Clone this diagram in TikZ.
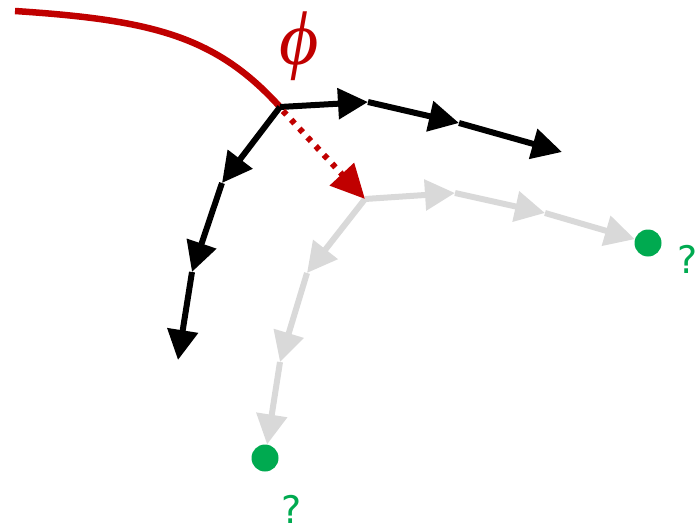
\documentclass[tikz,border=0pt]{standalone}
\usepackage{fontspec}
\usetikzlibrary{arrows.meta}
\newfontfamily\qfont{DejaVu Sans}
\newfontfamily\phifont{Liberation Serif}
\definecolor{phired}{RGB}{192,0,0}
\definecolor{lgray}{RGB}{217,217,217}
\definecolor{dotgreen}{RGB}{0,170,80}
\tikzset{
  blk/.style={line width=6pt, black, -{Triangle[length=30pt,width=30pt]}},
  gry/.style={line width=6pt, lgray, -{Triangle[length=30pt,width=30pt]}},
  reddot/.style={line width=6pt, phired, dash pattern=on 5pt off 7pt, -{Triangle[length=34pt,width=32pt]}},
  gdot/.style={circle, fill=dotgreen, minimum size=27pt, inner sep=0pt},
  qm/.style={text=dotgreen, font=\qfont\fontsize{38}{38}\selectfont, inner sep=0pt}
}
\begin{document}
\begin{tikzpicture}[x=1pt,y=-1pt]
\useasboundingbox (0,0) rectangle (698,532);
\coordinate (s) at (15,11);
\coordinate (r) at (280,107);
\coordinate (a1) at (368,102);
\coordinate (a2) at (459,123);
\coordinate (a3) at (562,152);
\coordinate (b1) at (222,183);
\coordinate (b2) at (192,272);
\coordinate (b3) at (178,360);
\coordinate (g) at (365,199);
\coordinate (c1) at (455,193);
\coordinate (c2) at (545,213);
\coordinate (d1) at (307,273);
\coordinate (d2) at (280,362);
\node[gdot] (e1) at (648,243) {};
\node[gdot] (e2) at (265,458) {};
\node[qm] (q1) at (688,259) {?};
\node[qm] (q2) at (292,509) {?};
\node[text=phired, inner sep=0pt, font=\phifont\itshape\fontsize{76}{76}\selectfont] (phi) at (299,46) {ϕ};
% gray branch
\draw[gry] (g) -- (c1);
\draw[gry] (c1) -- (c2);
\draw[gry] (c2) -- (e1);
\draw[gry] (g) -- (d1);
\draw[gry] (d1) -- (d2);
\draw[gry] (d2) -- (e2);
% red curve
\draw[phired, line width=6.5pt] (s) .. controls (150,20) and (215,35) .. (r);
% black branches
\draw[blk] (r) -- (a1);
\draw[blk] (a1) -- (a2);
\draw[blk] (a2) -- (a3);
\draw[blk] (r) -- (b1);
\draw[blk] (b1) -- (b2);
\draw[blk] (b2) -- (b3);
% red dotted
\draw[reddot] ([shift={(3,4)}]r) -- (g);
\end{tikzpicture}
\end{document}
